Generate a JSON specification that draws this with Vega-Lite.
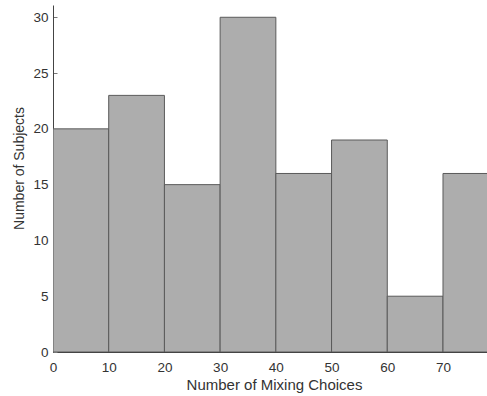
{
  "$schema": "https://vega.github.io/schema/vega-lite/v6.json",
  "width": 434,
  "height": 347,
  "autosize": {"type": "none"},
  "padding": {"left": 53, "top": 5, "right": 0, "bottom": 44},
  "background": "white",
  "config": {
    "view": {"stroke": null},
    "font": "Liberation Sans",
    "axis": {
      "grid": false,
      "domainColor": "#444444",
      "tickColor": "#777777",
      "labelColor": "#333333",
      "titleColor": "#333333",
      "labelFontSize": 13.5,
      "titleFontSize": 14,
      "titleFontWeight": "normal",
      "tickSize": -4
    }
  },
  "data": {
    "values": [
      {"bin_start": 0, "bin_end": 10, "count": 20},
      {"bin_start": 10, "bin_end": 20, "count": 23},
      {"bin_start": 20, "bin_end": 30, "count": 15},
      {"bin_start": 30, "bin_end": 40, "count": 30},
      {"bin_start": 40, "bin_end": 50, "count": 16},
      {"bin_start": 50, "bin_end": 60, "count": 19},
      {"bin_start": 60, "bin_end": 70, "count": 5},
      {"bin_start": 70, "bin_end": 80, "count": 16}
    ]
  },
  "mark": {"type": "rect", "fill": "#adadad", "stroke": "#5a5a5a", "strokeWidth": 1, "clip": true},
  "encoding": {
    "x": {
      "field": "bin_start",
      "type": "quantitative",
      "scale": {"domain": [0, 77.9], "nice": false, "zero": false},
      "axis": {"values": [0, 10, 20, 30, 40, 50, 60, 70], "title": "Number of Mixing Choices", "titleFontSize": 15, "titlePadding": 4, "titleX": 221, "labelPadding": 12, "labelFlush": false}
    },
    "x2": {"field": "bin_end"},
    "y": {
      "field": "count",
      "type": "quantitative",
      "scale": {"domain": [0, 31.1], "nice": false},
      "axis": {"values": [0, 5, 10, 15, 20, 25, 30], "title": "Number of Subjects", "titlePadding": 6, "titleY": 163, "labelPadding": 9, "labelFlush": false}
    },
    "y2": {"datum": 0}
  }
}
